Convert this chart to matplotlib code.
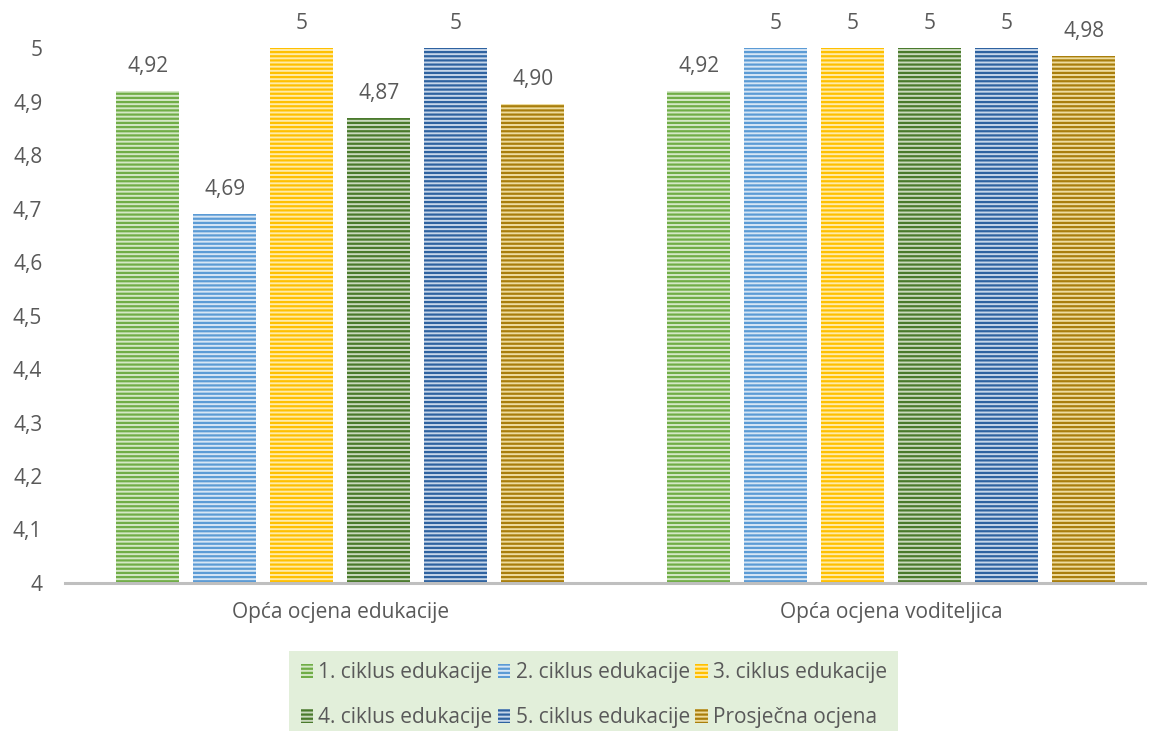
import matplotlib
matplotlib.use("Agg")
import matplotlib.pyplot as plt
import numpy as np

plt.rcParams['font.family'] = ['Open Sans', 'DejaVu Sans']
plt.rcParams['hatch.linewidth'] = 1.6

# podaci
kategorije = ['Opća ocjena edukacije', 'Opća ocjena voditeljica']
serije = ['1. ciklus edukacije', '2. ciklus edukacije', '3. ciklus edukacije',
          '4. ciklus edukacije', '5. ciklus edukacije', 'Prosječna ocjena']
edukacija = [4.92, 4.69, 5, 4.87, 5, 4.895]
voditeljica = [4.92, 5, 5, 5, 5, 4.985]
oznake_edukacija = ['4,92', '4,69', '5', '4,87', '5', '4,90']
oznake_voditeljica = ['4,92', '5', '5', '5', '5', '4,98']
y_ticks = [4.0, 4.1, 4.2, 4.3, 4.4, 4.5, 4.6, 4.7, 4.8, 4.9, 5.0]
y_tick_labels = ['4', '4,1', '4,2', '4,3', '4,4', '4,5', '4,6', '4,7', '4,8', '4,9', '5']

# boje: (pruge, pozadina)
boje = [('#70AD47', '#D4E8C6'), ('#5B9BD5', '#D6E6F5'), ('#FFC000', '#FFEBA8'),
        ('#4A7A2C', '#C9D9BE'), ('#2E62A0', '#C6D6EA'), ('#A97E0C', '#EEDC9E')]

fig = plt.figure(figsize=(11.53, 7.31), dpi=100)
ax = fig.add_axes([0.056, 0.2025, 0.937, 0.7315])

x = np.arange(len(kategorije))
sirina = 0.114
korak = 0.1397
tekst_boja = '#595959'
fs = 15

handles = []
for i, naziv in enumerate(serije):
    vrijednosti = [edukacija[i], voditeljica[i]]
    oznake = [oznake_edukacija[i], oznake_voditeljica[i]]
    pomak = (i - 2.5) * korak
    bars = ax.bar(x + pomak, np.array(vrijednosti) - 4, bottom=4, width=sirina,
                  facecolor=boje[i][1], edgecolor=boje[i][0], hatch='----',
                  linewidth=0, label=naziv)
    handles.append(bars)
    for b, t in zip(bars, oznake):
        ax.text(b.get_x() + b.get_width() / 2, b.get_y() + b.get_height() + 0.026, t,
                ha='center', va='bottom', fontsize=fs, color=tekst_boja, clip_on=False)

ax.set_ylim(4, 5)
ax.set_xlim(-0.5, 1.46)
ax.set_yticks(y_ticks)
ax.set_yticklabels(y_tick_labels)
ax.set_xticks(x)
ax.set_xticklabels(kategorije)
ax.tick_params(axis='both', length=0, labelsize=fs, labelcolor=tekst_boja)
ax.tick_params(axis='x', pad=14)
ax.tick_params(axis='y', pad=16)
for s in ['top', 'right', 'left']:
    ax.spines[s].set_visible(False)
ax.spines['bottom'].set_color('#BFBFBF')
ax.spines['bottom'].set_linewidth(2.2)

# redoslijed za popunjavanje po redovima
red = [0, 3, 1, 4, 2, 5]
leg = fig.legend([handles[k] for k in red], [serije[k] for k in red],
                 loc='lower center', bbox_to_anchor=(0.515, -0.012), ncol=3,
                 fontsize=fs, frameon=True, fancybox=False,
                 handlelength=0.6, handleheight=0.6, handletextpad=0.25,
                 columnspacing=0.25, labelspacing=1.15, borderpad=0.55,
                 borderaxespad=0.0)
leg.get_frame().set_facecolor('#E2EFDA')
leg.get_frame().set_edgecolor('none')
leg.get_frame().set_alpha(1)
for t in leg.get_texts():
    t.set_color(tekst_boja)

fig.savefig('out.png', dpi=100)
